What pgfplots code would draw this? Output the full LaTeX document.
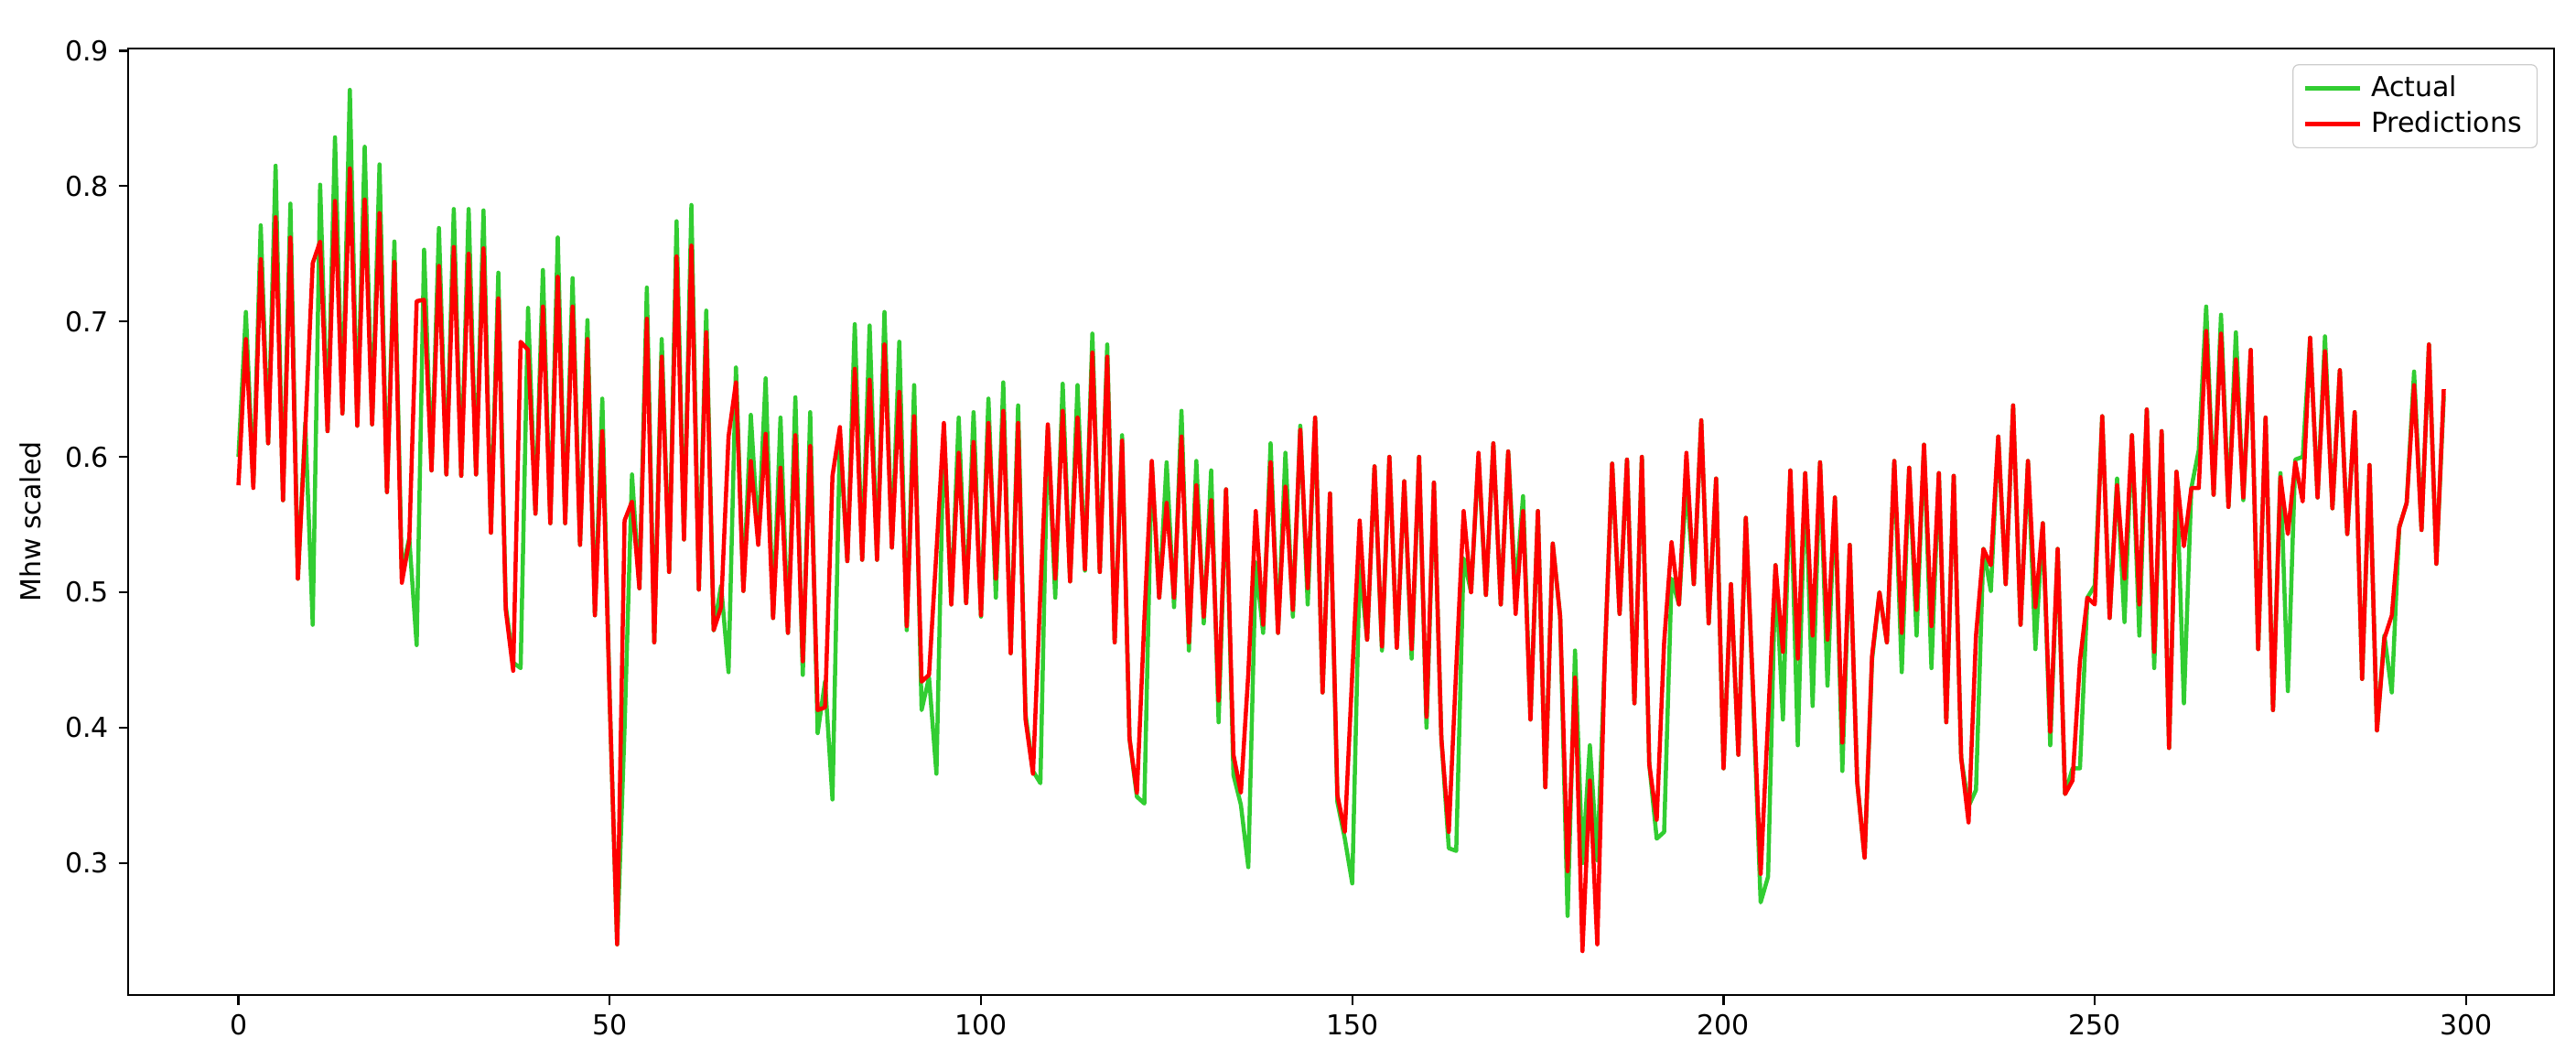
\documentclass[border=0pt]{standalone}
\usepackage{fontspec}
\setmainfont{DejaVu Sans}
\usepackage{pgfplots}
\usepackage{pgfplotstable}
\pgfplotsset{compat=1.18}
\definecolor{actgreen}{RGB}{50,205,50}
\definecolor{predred}{RGB}{255,0,0}
\pgfplotstableread{
t A P
0 0.600 0.579
1 0.707 0.687
2 0.580 0.577
3 0.771 0.746
4 0.610 0.610
5 0.815 0.777
6 0.568 0.568
7 0.787 0.762
8 0.510 0.510
9 0.625 0.620
10 0.476 0.743
11 0.801 0.759
12 0.619 0.619
13 0.836 0.789
14 0.632 0.632
15 0.871 0.813
16 0.623 0.623
17 0.829 0.790
18 0.624 0.624
19 0.816 0.780
20 0.574 0.574
21 0.759 0.744
22 0.515 0.507
23 0.540 0.538
24 0.461 0.715
25 0.753 0.716
26 0.590 0.590
27 0.769 0.741
28 0.587 0.587
29 0.783 0.755
30 0.586 0.586
31 0.783 0.750
32 0.587 0.587
33 0.782 0.754
34 0.544 0.544
35 0.736 0.717
36 0.490 0.487
37 0.448 0.442
38 0.444 0.685
39 0.710 0.679
40 0.558 0.558
41 0.738 0.711
42 0.551 0.551
43 0.762 0.733
44 0.551 0.551
45 0.732 0.711
46 0.535 0.535
47 0.701 0.687
48 0.483 0.483
49 0.643 0.619
50 0.420 0.420
51 0.240 0.240
52 0.400 0.553
53 0.587 0.567
54 0.503 0.503
55 0.725 0.702
56 0.463 0.463
57 0.687 0.674
58 0.515 0.515
59 0.774 0.748
60 0.539 0.539
61 0.786 0.756
62 0.502 0.502
63 0.708 0.692
64 0.472 0.472
65 0.505 0.489
66 0.441 0.615
67 0.666 0.655
68 0.501 0.501
69 0.631 0.597
70 0.540 0.535
71 0.658 0.617
72 0.481 0.481
73 0.629 0.592
74 0.470 0.470
75 0.644 0.616
76 0.439 0.449
77 0.633 0.608
78 0.396 0.413
79 0.434 0.415
80 0.347 0.586
81 0.615 0.622
82 0.523 0.523
83 0.698 0.665
84 0.524 0.524
85 0.697 0.657
86 0.524 0.524
87 0.707 0.683
88 0.533 0.533
89 0.685 0.648
90 0.472 0.475
91 0.653 0.630
92 0.413 0.434
93 0.437 0.439
94 0.366 0.530
95 0.624 0.625
96 0.491 0.491
97 0.629 0.603
98 0.492 0.492
99 0.633 0.611
100 0.482 0.483
101 0.643 0.625
102 0.496 0.510
103 0.655 0.634
104 0.455 0.455
105 0.638 0.625
106 0.410 0.406
107 0.368 0.366
108 0.359 0.500
109 0.622 0.624
110 0.496 0.510
111 0.654 0.634
112 0.508 0.508
113 0.653 0.629
114 0.516 0.517
115 0.691 0.677
116 0.515 0.515
117 0.683 0.674
118 0.463 0.463
119 0.616 0.612
120 0.392 0.392
121 0.349 0.352
122 0.344 0.480
123 0.596 0.597
124 0.496 0.496
125 0.596 0.566
126 0.489 0.496
127 0.634 0.615
128 0.457 0.463
129 0.597 0.579
130 0.477 0.482
131 0.590 0.568
132 0.404 0.420
133 0.576 0.576
134 0.365 0.380
135 0.343 0.352
136 0.297 0.440
137 0.522 0.560
138 0.470 0.476
139 0.610 0.596
140 0.470 0.470
141 0.603 0.578
142 0.482 0.487
143 0.623 0.620
144 0.491 0.503
145 0.629 0.629
146 0.426 0.426
147 0.573 0.573
148 0.345 0.350
149 0.318 0.323
150 0.285 0.440
151 0.520 0.553
152 0.465 0.465
153 0.593 0.593
154 0.457 0.460
155 0.600 0.600
156 0.459 0.459
157 0.582 0.582
158 0.451 0.458
159 0.600 0.600
160 0.400 0.408
161 0.581 0.581
162 0.392 0.392
163 0.311 0.323
164 0.309 0.444
165 0.525 0.560
166 0.500 0.500
167 0.600 0.603
168 0.498 0.498
169 0.610 0.610
170 0.491 0.491
171 0.604 0.604
172 0.500 0.484
173 0.571 0.560
174 0.406 0.406
175 0.560 0.560
176 0.356 0.356
177 0.536 0.536
178 0.482 0.482
179 0.261 0.294
180 0.457 0.437
181 0.300 0.235
182 0.387 0.361
183 0.302 0.240
184 0.450 0.450
185 0.595 0.595
186 0.484 0.484
187 0.598 0.598
188 0.418 0.418
189 0.600 0.600
190 0.373 0.373
191 0.318 0.332
192 0.323 0.463
193 0.510 0.537
194 0.491 0.491
195 0.580 0.603
196 0.506 0.506
197 0.627 0.627
198 0.477 0.477
199 0.584 0.584
200 0.370 0.370
201 0.506 0.506
202 0.380 0.380
203 0.555 0.555
204 0.420 0.425
205 0.271 0.292
206 0.290 0.406
207 0.520 0.520
208 0.406 0.456
209 0.590 0.590
210 0.387 0.451
211 0.588 0.588
212 0.416 0.468
213 0.596 0.596
214 0.431 0.465
215 0.570 0.570
216 0.368 0.389
217 0.535 0.535
218 0.360 0.360
219 0.304 0.304
220 0.450 0.453
221 0.500 0.500
222 0.463 0.463
223 0.597 0.597
224 0.441 0.470
225 0.592 0.592
226 0.468 0.487
227 0.609 0.609
228 0.444 0.475
229 0.588 0.588
230 0.404 0.404
231 0.586 0.586
232 0.378 0.378
233 0.342 0.330
234 0.354 0.468
235 0.532 0.532
236 0.501 0.520
237 0.615 0.615
238 0.506 0.506
239 0.638 0.638
240 0.476 0.476
241 0.597 0.597
242 0.458 0.489
243 0.551 0.551
244 0.387 0.397
245 0.532 0.532
246 0.351 0.351
247 0.370 0.361
248 0.370 0.449
249 0.496 0.496
250 0.505 0.491
251 0.630 0.630
252 0.481 0.481
253 0.584 0.579
254 0.478 0.510
255 0.616 0.616
256 0.468 0.491
257 0.635 0.635
258 0.444 0.456
259 0.619 0.619
260 0.385 0.385
261 0.589 0.589
262 0.418 0.534
263 0.577 0.577
264 0.605 0.577
265 0.711 0.693
266 0.572 0.572
267 0.705 0.691
268 0.563 0.563
269 0.692 0.672
270 0.568 0.570
271 0.679 0.679
272 0.458 0.458
273 0.629 0.629
274 0.413 0.413
275 0.588 0.585
276 0.427 0.543
277 0.598 0.596
278 0.600 0.567
279 0.688 0.688
280 0.570 0.570
281 0.689 0.678
282 0.562 0.562
283 0.664 0.664
284 0.543 0.543
285 0.633 0.633
286 0.436 0.436
287 0.594 0.594
288 0.398 0.398
289 0.468 0.466
290 0.426 0.483
291 0.548 0.548
292 0.566 0.566
293 0.663 0.653
294 0.546 0.546
295 0.683 0.683
296 0.521 0.521
297 0.645 0.650
}\datatable

\begin{document}
\begin{tikzpicture}
\begin{axis}[
  name=ax,
  scale only axis,
  width=883.7pt, height=344.7pt,
  xmin=-14.85, xmax=311.85,
  ymin=0.2025, ymax=0.9015,
  xtick={0,50,100,150,200,250,300},
  ytick={0.3,0.4,0.5,0.6,0.7,0.8,0.9},
  yticklabel style={/pgf/number format/.cd, fixed, fixed zerofill, precision=1},
  /pgf/number format/assume math mode=true,
  tick label style={font=\fontsize{10}{12}\selectfont},
  tick align=outside, tick pos=left,
  major tick length=3.5pt,
  every tick/.style={black, line width=0.8pt},
  axis line style={line width=0.8pt, black},
  ylabel={Mhw scaled},
  ylabel style={font=\fontsize{10}{12}\selectfont, at={(axis description cs:-0.0404,0.5)}, anchor=center},
  legend style={
    at={(axis description cs:1,1)}, anchor=north east,
    xshift=-6pt, yshift=-5.7pt,
    draw=black!20, rounded corners=2pt,
    fill=white, fill opacity=0.8, text opacity=1,
    font=\fontsize{10}{12}\selectfont,
    inner xsep=3.5pt, inner ysep=2pt,
    row sep=0pt,
    /tikz/every odd column/.append style={column sep=1.5pt},
  },
  legend cell align=left,
  legend image code/.code={\draw[#1] (0pt,0pt) -- (20pt,0pt);},
]
\addplot[actgreen, line width=1.5pt, line join=round] table[x=t,y=A]{\datatable};
\addlegendentry{Actual}
\addplot[predred, line width=1.5pt, line join=round] table[x=t,y=P]{\datatable};
\addlegendentry{Predictions}
\end{axis}
\pgfresetboundingbox
\path ([xshift=-46.7pt,yshift=-23.3pt]ax.south west) rectangle ([xshift=8pt,yshift=17.7pt]ax.north east);
\end{tikzpicture}
\end{document}
